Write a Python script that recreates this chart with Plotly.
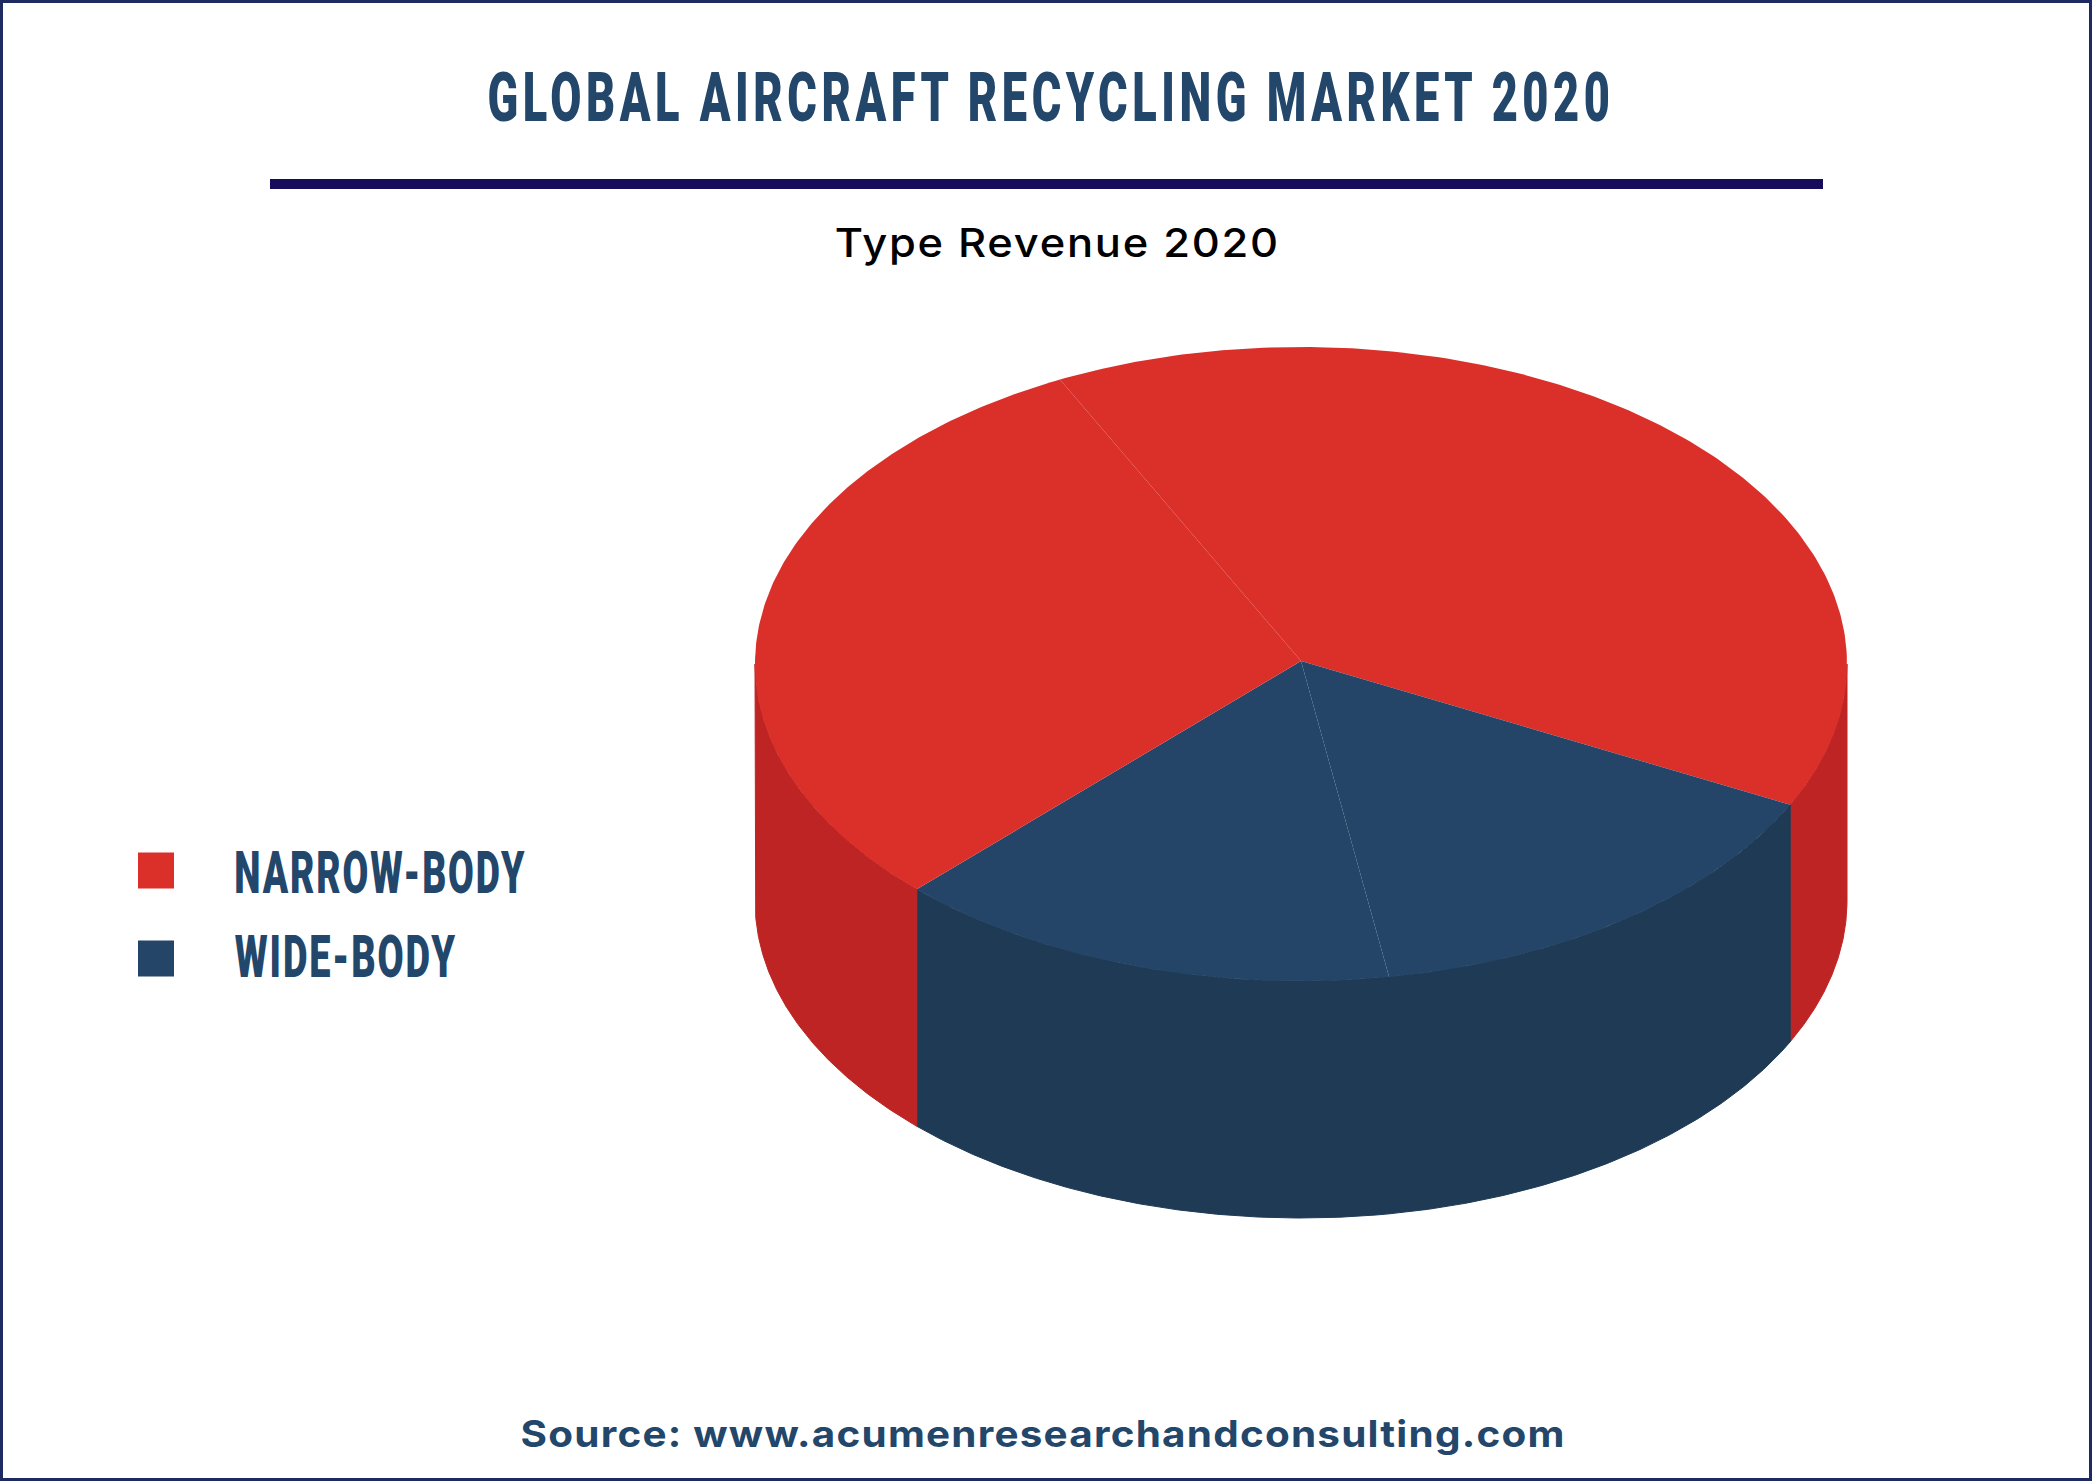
import numpy as np
import plotly.graph_objects as go

# shares of the pie, clockwise from the back of the top face
slice_labels = ["Narrow-body A", "Wide-body A", "Wide-body B", "Narrow-body B"]
slice_groups = ["narrow", "wide", "wide", "narrow"]
slice_shares = [39.6, 15.1, 15.0, 30.3]

legend_labels = ["NARROW-BODY", "WIDE-BODY"]
legend_groups = ["narrow", "wide"]

title_text = "GLOBAL AIRCRAFT RECYCLING MARKET 2020"
subtitle_text = "Type Revenue 2020"
source_text = "Source: www.acumenresearchandconsulting.com"

top_colors = {"narrow": "#DB2F2A", "wide": "#244568"}
side_colors = {"narrow": "#BE2424", "wide": "#1E3A55"}

W, H = 2092, 1481
CX, CY, RX, RY, DEPTH = 1301, 664, 546, 317, 237
APEX_Y = 661
START_ANGLE = 116.2

# no condensed fonts here, so the texts get squeezed to the reference widths in the browser
TEXT_FIT = """
document.body.style.margin = '0';
var fit = {
  'GLOBAL AIRCRAFT RECYCLING MARKET 2020': [1127, '0.1em'],
  'Type Revenue 2020': [445, '0.04em'],
  'Source: www.acumenresearchandconsulting.com': [1045, '0.03em'],
  'NARROW-BODY': [292, '0.05em'],
  'WIDE-BODY': [222, '0.05em']
};
document.querySelectorAll('text.annotation-text').forEach(function (t) {
  var f = fit[t.textContent];
  if (!f) return;
  t.style.letterSpacing = f[1];
  t.setAttribute('textLength', f[0]);
  t.setAttribute('lengthAdjust', 'spacingAndGlyphs');
});
"""


def arc(a0, a1, dy=0):
    t = np.radians(np.linspace(a0, a1, 200))
    return CX + RX * np.cos(t), CY + dy - RY * np.sin(t)


def get_pie_traces():
    traces = []
    walls = []
    a0 = START_ANGLE
    for label, group, share in zip(slice_labels, slice_groups, slice_shares):
        a1 = a0 - share * 3.6
        xs, ys = arc(a0, a1)
        traces.append(go.Scatter(
            x=[CX, *xs, CX],
            y=[APEX_Y, *ys, APEX_Y],
            mode="lines",
            line={"width": 0, "color": top_colors[group]},
            fill="toself",
            fillcolor=top_colors[group],
            name=label,
            hoverinfo="name",
            showlegend=False
        ))
        # front wall only exists for the lower half of the ellipse
        lo, hi = max(a1, -180), min(a0, 0)
        if lo < hi:
            xt, yt = arc(hi, lo)
            xb, yb = arc(lo, hi, DEPTH)
            walls.append(go.Scatter(
                x=[*xt, *xb, xt[0]],
                y=[*yt, *yb, yt[0]],
                mode="lines",
                line={"width": 1, "color": side_colors[group]},
                fill="toself",
                fillcolor=side_colors[group],
                name=label,
                hoverinfo="skip",
                showlegend=False
            ))
        a0 = a1
    return walls + traces


def get_legend_traces():
    return [go.Scatter(
        x=[156],
        y=[870.5 + 88 * i],
        mode="markers",
        marker={"color": top_colors[g], "size": 36, "symbol": "square", "line": {"width": 0}},
        name=label,
        hoverinfo="skip",
        showlegend=False
    ) for i, (label, g) in enumerate(zip(legend_labels, legend_groups))]


annotations = [
    {"x": 1051, "y": 97, "text": title_text,
     "font": {"family": "Roboto", "size": 69, "color": "#23466B", "weight": 900}},
    {"x": 1057, "y": 242, "text": subtitle_text,
     "font": {"family": "Inter", "size": 40, "color": "#000000", "weight": 500}},
    {"x": 1043, "y": 1433, "text": source_text,
     "font": {"family": "Inter", "size": 37, "color": "#23466B", "weight": 700}},
    {"x": 381, "y": 872, "text": legend_labels[0],
     "font": {"family": "Roboto", "size": 59, "color": "#23466B", "weight": 900}},
    {"x": 346, "y": 956, "text": legend_labels[1],
     "font": {"family": "Roboto", "size": 59, "color": "#23466B", "weight": 900}},
]
for a in annotations:
    a.update({"xref": "x", "yref": "y", "showarrow": False})

fig = go.Figure(
    data=get_pie_traces() + get_legend_traces(),
    layout={
        "width": W,
        "height": H,
        "margin": {"l": 0, "r": 0, "t": 0, "b": 0, "pad": 0},
        "xaxis": {"visible": False, "fixedrange": True, "range": [0, W]},
        "yaxis": {"visible": False, "fixedrange": True, "range": [H, 0]},
        "showlegend": False,
        "plot_bgcolor": "white",
        "paper_bgcolor": "white",
        "annotations": annotations,
        "shapes": [
            {"type": "rect", "xref": "x", "yref": "y", "x0": 1.5, "x1": W - 1.5, "y0": 1.5, "y1": H - 1.5,
             "line": {"color": "#1F2A60", "width": 3}},
            {"type": "rect", "xref": "x", "yref": "y", "x0": 270, "x1": 1823, "y0": 179, "y1": 189,
             "fillcolor": "#170B5C", "line": {"width": 0}},
        ],
    },
)
fig.write_html("out.html", post_script=TEXT_FIT, config={"displayModeBar": False})
